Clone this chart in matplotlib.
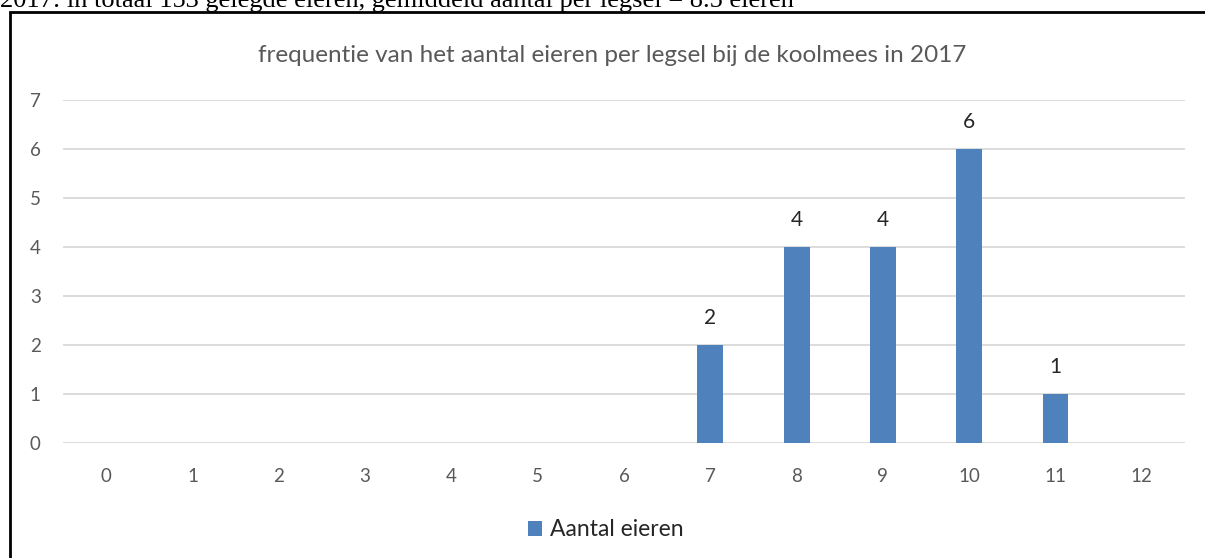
import numpy as np
import matplotlib.pyplot as plt
from matplotlib.patches import Rectangle

# data
categories = list(range(13))
counts = [0, 0, 0, 0, 0, 0, 0, 2, 4, 4, 6, 1, 0]
title = 'frequentie van het aantal eieren per legsel bij de koolmees in 2017'
header = '2017: in totaal 153 gelegde eieren, gemiddeld aantal per legsel = 8.5 eieren'
series_name = 'Aantal eieren'

plt.rcParams['font.family'] = ['Lato', 'DejaVu Sans']

fig = plt.figure(figsize=(12.05, 5.58), dpi=100)
ax = fig.add_axes([63/1205, 1 - 443/558, 1122/1205, 343/558])

bar_color = '#4f81bd'
bars = ax.bar(categories, counts, width=0.3, color=bar_color, zorder=3, label=series_name)
for x, v in zip(categories, counts):
    if v > 0:
        ax.annotate(str(v), (x, v), xytext=(0, 12), textcoords='offset points',
                    ha='center', va='bottom', fontsize=15, color='#262626')

ax.set_xlim(-0.5, 12.5)
ax.set_ylim(0, 7)
ax.set_yticks(range(8))
ax.set_xticks(categories)
ax.grid(axis='y', color='#d9d9d9', linewidth=1.3, zorder=0)
for s in ax.spines.values():
    s.set_visible(False)
ax.tick_params(length=0, labelsize=13.5, labelcolor='#595959')
ax.tick_params(axis='x', pad=18)
ax.tick_params(axis='y', pad=16)

fig.text(612/1205, 1 - 55/558, title, ha='center', va='center', fontsize=17.5, color='#595959')

leg = fig.legend(loc='center', bbox_to_anchor=(606/1205, 1 - 530/558), frameon=False,
                 fontsize=16.5, handlelength=0.6, handleheight=0.6, handletextpad=0.35)
for t in leg.get_texts():
    t.set_color('#262626')

# border box and header text (header is cut off at the top like the original)
fig.patches.append(Rectangle((10/1205, -0.05), 1.1, 1 - 12/558 + 0.05, transform=fig.transFigure,
                             fill=False, edgecolor='black', linewidth=2))
fig.text(0, 1 - 7/558, header, ha='left', va='baseline', fontsize=19,
         family=['Liberation Serif'], color='black')

fig.savefig('out.png', dpi=100)
